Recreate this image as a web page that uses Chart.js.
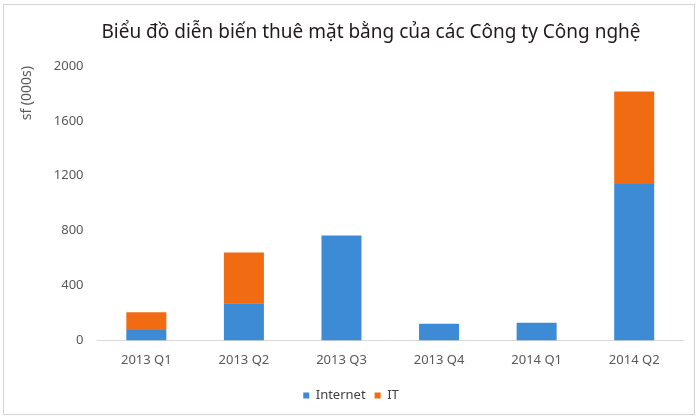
<!DOCTYPE html>
<html>
<head>
<meta charset="utf-8">
<script src="https://cdn.jsdelivr.net/npm/chart.js@4"></script>
<style>
    html, body {
        margin: 0;
        padding: 0;
        background: #ffffff;
    }

    #khung {
        position: absolute;
        left: 3px;
        top: 4px;
        width: 692px;
        height: 411px;
        border: 1px solid #d4d4d4;
        box-sizing: border-box;
    }

    #vung {
        position: absolute;
        left: 0;
        top: 0;
        width: 700px;
        height: 418px;
    }
</style>
</head>
<body>
<div id="khung"></div>
<div id="vung"><canvas id="bieuDo"></canvas></div>

<script>
/* Dữ liệu thuê mặt bằng (nghìn sf) */
const quy = ["2013 Q1", "2013 Q2", "2013 Q3", "2013 Q4", "2014 Q1", "2014 Q2"];
const internet = [75, 270, 765, 122, 128, 1140];
const congNgheIT = [130, 370, 0, 0, 0, 675];
const mocTrucY = [0, 400, 800, 1200, 1600, 2000];
const tieuDe = "Biểu đồ diễn biến thuê mặt bằng của các Công ty Công nghệ";

const FONT = "'Noto Sans', 'Open Sans', sans-serif";

// tiêu đề lệch phải một chút so với giữa khung, như ảnh gốc
const veTieuDe = {
    id: "veTieuDe",
    afterDraw(chart) {
        const ctx = chart.ctx;
        ctx.save();
        ctx.font = "19px " + FONT;
        ctx.fillStyle = "#231a1a";
        ctx.textAlign = "center";
        ctx.textBaseline = "middle";
        ctx.fillText(tieuDe, 371, 33);
        ctx.restore();
    }
};

new Chart(document.getElementById("bieuDo"), {
    type: "bar",
    data: {
        labels: quy,
        datasets: [
            {
                label: "Internet",
                data: internet,
                backgroundColor: "#3d8ad5"
            },
            {
                label: "IT",
                data: congNgheIT,
                backgroundColor: "#f06b12"
            }
        ]
    },
    plugins: [veTieuDe],
    options: {
        responsive: true,
        maintainAspectRatio: false,
        animation: false,
        datasets: {
            bar: {
                categoryPercentage: 0.41,
                barPercentage: 1
            }
        },
        layout: {
            padding: { top: 66, left: 19, right: 17, bottom: 6 }
        },
        plugins: {
            legend: {
                position: "bottom",
                labels: {
                    color: "#404040",
                    font: { family: FONT, size: 13 },
                    boxWidth: 6,
                    boxHeight: 6,
                    padding: 9
                }
            },
            tooltip: { enabled: false }
        },
        scales: {
            x: {
                stacked: true,
                grid: { display: false, drawTicks: false },
                border: { display: true, color: "#d9d9d9" },
                ticks: {
                    color: "#595959",
                    font: { family: FONT, size: 13 },
                    padding: 12
                }
            },
            y: {
                stacked: true,
                min: 0,
                max: 2000,
                afterBuildTicks: escala => {
                    escala.ticks = mocTrucY.map(v => ({ value: v }));
                },
                grid: { display: false, drawTicks: false },
                border: { display: false },
                ticks: {
                    color: "#595959",
                    font: { family: FONT, size: 13 },
                    padding: 14,
                    callback: v => String(v)
                },
                title: {
                    display: true,
                    text: "sf (000s)",
                    align: "end",
                    color: "#595959",
                    font: { family: FONT, size: 14 },
                    padding: { top: 0, bottom: 4 }
                }
            }
        }
    }
});
</script>
</body>
</html>
